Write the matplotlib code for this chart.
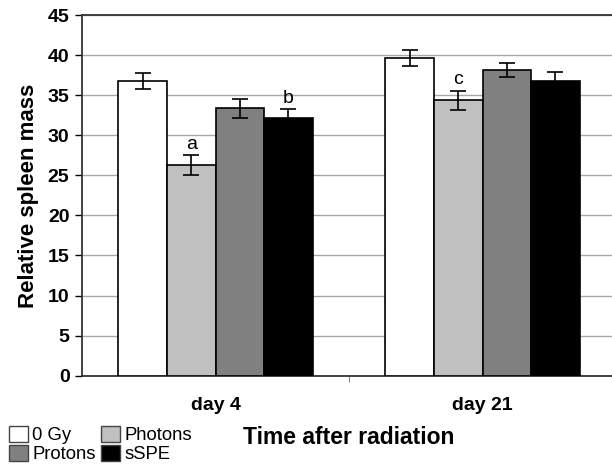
import numpy as np
import matplotlib
matplotlib.use("Agg")
import matplotlib.pyplot as plt
from matplotlib.patches import Patch

plt.rcParams['font.family'] = ['Liberation Sans', 'DejaVu Sans']

days = ["day 4", "day 21"]
groups = ["0 Gy", "Photons", "Protons", "sSPE"]
colors = ["#ffffff", "#c0c0c0", "#808080", "#000000"]
mass = [[36.8, 39.7], [26.3, 34.4], [33.4, 38.2], [32.2, 36.8]]
err = [[1.0, 1.0], [1.2, 1.2], [1.2, 0.9], [1.1, 1.1]]
letters = [["", ""], ["a", "c"], ["", ""], ["b", ""]]

fig = plt.figure(figsize=(6.12, 4.67), dpi=100)
ax = fig.add_axes([82 / 612, 1 - 375.5 / 467, 534 / 612, 360 / 467])

x = np.arange(len(days))
w = 0.182
for i, g in enumerate(groups):
    pos = x + (i - 1.5) * w
    ax.bar(pos, mass[i], w, color=colors[i], edgecolor="black", linewidth=1.2,
           yerr=err[i], capsize=6, error_kw=dict(elinewidth=1.2, capthick=1.2, ecolor="black"),
           zorder=3)
    for j in range(len(days)):
        if letters[i][j]:
            ax.text(pos[j], mass[i][j] + err[i][j] + 0.3, letters[i][j],
                    ha="center", va="bottom", fontsize=14)

ax.set_xlim(-0.5, 1.5)
ax.set_ylim(0, 45)
ax.set_yticks(range(0, 46, 5))
ax.yaxis.grid(True, color="#a8a8a8", linewidth=1)
ax.set_axisbelow(True)
ax.set_xticks([0.5])
ax.set_xticklabels([""])
ax.tick_params(axis="x", length=4, color="#888888")
ax.tick_params(axis="y", length=5, width=1, labelsize=14, pad=4)
for lab in ax.get_yticklabels():
    lab.set_fontweight("bold")
for side in ["left", "bottom", "top"]:
    ax.spines[side].set_color("#333333")
    ax.spines[side].set_linewidth(1.3)
ax.spines["right"].set_visible(False)

for j, d in enumerate(days):
    ax.text(x[j], -3.7, d, ha="center", va="center", fontsize=14, fontweight="bold")

ax.set_ylabel("Relative spleen mass", fontsize=16, fontweight="bold", labelpad=6)
fig.text(349 / 612, 1 - 438 / 467, "Time after radiation", ha="center", va="center",
         fontsize=16.5, fontweight="bold")

handles = [Patch(facecolor=c, edgecolor="#444444", linewidth=1) for c in colors]
order = [0, 2, 1, 3]
fig.legend([handles[k] for k in order], [groups[k] for k in order], ncol=2,
           loc="lower left", bbox_to_anchor=(-0.012, -0.028), frameon=False,
           fontsize=13.3, handlelength=1.0, handleheight=1.0, handletextpad=0.25,
           columnspacing=0.3, labelspacing=0.02)

fig.savefig("out.png", dpi=100)
